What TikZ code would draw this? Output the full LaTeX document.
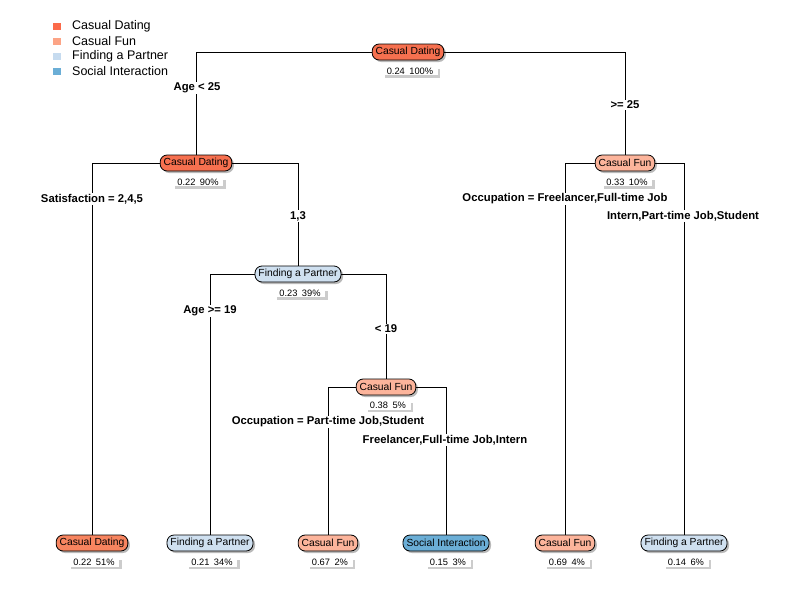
\documentclass[tikz,border=0pt]{standalone}
\usepackage{fontspec}
\setmainfont{Liberation Sans}
\usetikzlibrary{shadows}
\definecolor{cdark}{HTML}{F6704F}
\definecolor{cleaf}{HTML}{F7845F}
\definecolor{cfun}{HTML}{FCB49B}
\definecolor{cfp}{HTML}{CFE0F0}
\definecolor{csi}{HTML}{6BAED6}
\definecolor{lcd}{HTML}{FB6A4A}
\definecolor{lcf}{HTML}{FCA486}
\definecolor{lfp}{HTML}{C6DBEF}
\definecolor{lsi}{HTML}{6BAED6}
\newcommand{\stsep}{\hspace{4.5pt}}
\tikzset{
  tnode/.style={draw=black, line width=0.8pt, rounded corners=7pt, inner xsep=3.5pt, inner ysep=0pt,
    minimum height=16pt, font=\fontsize{10.3}{12}\selectfont,
    drop shadow={shadow xshift=2pt, shadow yshift=-2pt, fill=gray!55, opacity=1}},
  stat/.style={fill=white, inner xsep=4.5pt, inner ysep=1.2pt, font=\fontsize{9.3}{10}\selectfont,
    drop shadow={shadow xshift=2.5pt, shadow yshift=-2.5pt, fill=gray!40, opacity=1}},
  split/.style={fill=white, inner sep=1pt, font=\fontsize{11.3}{13}\selectfont\bfseries},
  edge/.style={draw=black, line width=0.8pt},
  lsq/.style={minimum width=8pt, minimum height=7pt, inner sep=0pt},
  ltext/.style={anchor=west, inner sep=0pt, font=\fontsize{12.5}{14}\selectfont}
}
\begin{document}
\begin{tikzpicture}[x=1pt,y=-1pt]
\useasboundingbox (0,-2) rectangle (800,598);
% nodes
\node[tnode, fill=cdark] (n1) at (408,50) {Casual Dating};
\node[stat] (s1) at (410,69) {0.24\stsep100\%};
\node[tnode, fill=cdark] (n2) at (196,161) {Casual Dating};
\node[stat] (s2) at (198,180) {0.22\stsep90\%};
\node[tnode, fill=cfp] (n3) at (298,272) {Finding a Partner};
\node[stat] (s3) at (300,291) {0.23\stsep39\%};
\node[tnode, fill=cfun] (n4) at (386,385) {Casual Fun};
\node[stat] (s4) at (388,403) {0.38\stsep5\%};
\node[tnode, fill=cfun] (n5) at (625,161) {Casual Fun};
\node[stat] (s5) at (627,180) {0.33\stsep10\%};
% leaves
\node[tnode, fill=cleaf] (l1) at (92,541) {Casual Dating};
\node[stat] (t1) at (94,560) {0.22\stsep51\%};
\node[tnode, fill=cfp] (l2) at (210,541) {Finding a Partner};
\node[stat] (t2) at (212,560) {0.21\stsep34\%};
\node[tnode, fill=cfun] (l3) at (328,541) {Casual Fun};
\node[stat] (t3) at (330,560) {0.67\stsep2\%};
\node[tnode, fill=csi] (l4) at (446,541) {Social Interaction};
\node[stat] (t4) at (448,560) {0.15\stsep3\%};
\node[tnode, fill=cfun] (l5) at (565,541) {Casual Fun};
\node[stat] (t5) at (567,560) {0.69\stsep4\%};
\node[tnode, fill=cfp] (l6) at (684,541) {Finding a Partner};
\node[stat] (t6) at (686,560) {0.14\stsep6\%};
% edges
\draw[edge] (n1.west) -| (n2.north);
\draw[edge] (n1.east) -| (n5.north);
\draw[edge] (n2.west) -| (l1.north);
\draw[edge] (n2.east) -| (n3.north);
\draw[edge] (n3.west) -| (l2.north);
\draw[edge] (n3.east) -| (n4.north);
\draw[edge] (n4.west) -| (l3.north);
\draw[edge] (n4.east) -| (l4.north);
\draw[edge] (n5.west) -| (l5.north);
\draw[edge] (n5.east) -| (l6.north);
% split labels
\node[split] (a1) at (197,86) {Age < 25};
\node[split] (a2) at (625,103) {>= 25};
\node[split] (a3) at (92,197) {Satisfaction = 2,4,5};
\node[split] (a4) at (298,214) {1,3};
\node[split] (a5) at (210,309) {Age >= 19};
\node[split] (a6) at (386,327) {< 19};
\node[split] (a7) at (328,420) {Occupation = Part-time Job,Student};
\node[split] (a8) at (445,438) {Freelancer,Full-time Job,Intern};
\node[split] (a9) at (565,197) {Occupation = Freelancer,Full-time Job};
\node[split] (a10) at (683,214) {Intern,Part-time Job,Student};
% legend
\node[lsq, fill=lcd] (q1) at (57,24) {};
\node[lsq, fill=lcf] (q2) at (57,39) {};
\node[lsq, fill=lfp] (q3) at (57,54) {};
\node[lsq, fill=lsi] (q4) at (57,69) {};
\node[ltext] (k1) at (72,24) {Casual Dating};
\node[ltext] (k2) at (72,39) {Casual Fun};
\node[ltext] (k3) at (72,54) {Finding a Partner};
\node[ltext] (k4) at (72,69) {Social Interaction};
\end{tikzpicture}
\end{document}
